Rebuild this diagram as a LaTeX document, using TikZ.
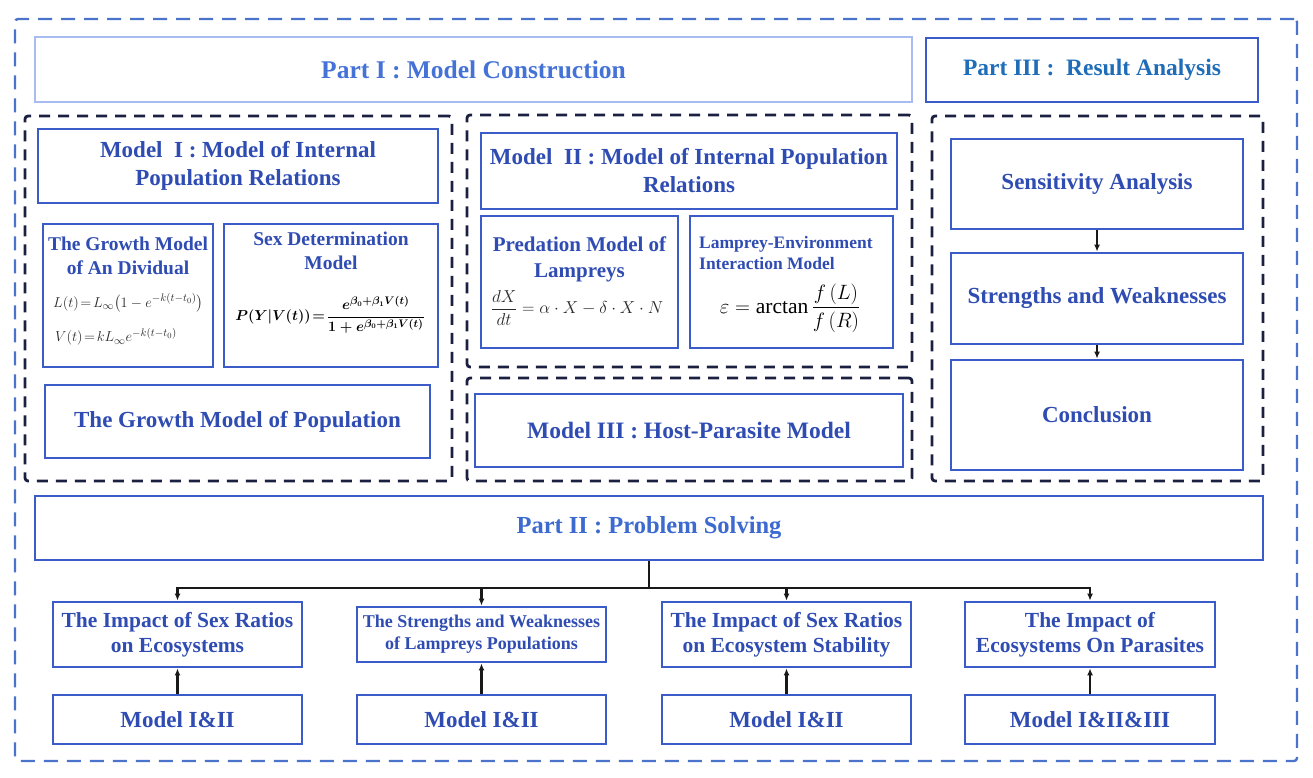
\documentclass[tikz,border=0pt]{standalone}
\usepackage{amsmath}
\usepackage{fontspec}
\setmainfont{Liberation Serif}
\usetikzlibrary{arrows.meta}
\newcommand{\fsz}[2]{\fontsize{#1pt}{#2pt}\selectfont}
\newcommand{\sexfml}{\ensuremath{P(Y\vert V(t))\!=\!\dfrac{e^{\beta_0+\beta_1V(t)}}{1+e^{\beta_0+\beta_1V(t)}}}}
\definecolor{bdr}{HTML}{3B5CC8}
\definecolor{ttl}{HTML}{2F4CB3}
\definecolor{pone}{HTML}{4472D6}
\definecolor{ptwo}{HTML}{3C6AD0}
\definecolor{pthree}{HTML}{1F6DB8}
\definecolor{lite}{HTML}{A8BCF2}
\definecolor{navy}{HTML}{1C2040}
\definecolor{outerc}{HTML}{4A74CC}
\definecolor{fmlc}{HTML}{2A2A2A}
\begin{document}
\begin{tikzpicture}[x=1pt,y=-1pt,
  box/.style={draw=bdr, line width=2.8pt, inner sep=0pt, text=ttl, align=center, font=\bfseries\fsz{23}{28}},
  grp/.style={draw=navy, dash pattern=on 11pt off 8pt, line width=2.8pt, rounded corners=3pt, inner sep=0pt},
  outerbox/.style={draw=outerc, dash pattern=on 14pt off 9pt, line width=2.4pt, rounded corners=3pt, inner sep=0pt},
  lbl/.style={inner sep=0pt, text=ttl, align=center},
  fml/.style={inner sep=0pt, text=fmlc},
  link/.style={draw=black!90, line width=2.4pt},
  arr/.style={draw=black!90, line width=2.4pt, -{Latex[length=7pt,width=6pt]}}
]
\useasboundingbox (0,0) rectangle (1313,778);
\fill[white] (0,0) rectangle (1313,778);

% outer frame
\node[outerbox, minimum width=1282pt, minimum height=742pt] (frame) at (656,390) {};

% part headers
\node[box, draw=lite, text=pone, font=\bfseries\fsz{25.5}{30}, minimum width=877pt, minimum height=65pt] (partI) at (473.5,69.5) {Part I : Model Construction};
\node[box, text=pthree, font=\bfseries\fsz{23.5}{28}, minimum width=332pt, minimum height=64pt] (partIII) at (1092,70) {Part III :\ \ Result Analysis};

% dashed groups
\node[grp, minimum width=427pt, minimum height=365pt] (g1) at (238.5,298.5) {};
\node[grp, minimum width=445pt, minimum height=252pt] (g2) at (689.5,241) {};
\node[grp, minimum width=445pt, minimum height=103pt] (g3) at (689.5,429.5) {};
\node[grp, minimum width=331pt, minimum height=365pt] (g4) at (1097.5,298.5) {};

% Model I
\node[box, minimum width=400pt, minimum height=74pt] (m1) at (238,166) {Model\ \ I : Model of Internal\\Population Relations};
\node[box, minimum width=170pt, minimum height=143pt] (gi) at (128,295.5) {};
\node[lbl, font=\bfseries\fsz{19.5}{24}] (giT) at (128,256) {The Growth Model\\of An Dividual};
\node[fml, anchor=west, font=\fsz{15.5}{18}] (giL) at (53,303) {$L(t)\!=\!L_\infty\bigl(1-e^{-k(t-t_0)}\bigr)$};
\node[fml, anchor=west, font=\fsz{15.5}{18}] (giV) at (55,337) {$V(t)\!=\!kL_\infty e^{-k(t-t_0)}$};
\node[box, minimum width=214pt, minimum height=143pt] (sd) at (331,295.5) {};
\node[lbl, font=\bfseries\fsz{19.5}{24}] (sdT) at (331,251) {Sex Determination\\Model};
\node[fml, text=black, font=\fsz{15}{18}\boldmath] (sdF) at (330,315) {\sexfml};
\node[box, minimum width=385pt, minimum height=73pt] (gp) at (237.5,421.5) {The Growth Model of Population};

% Model II
\node[box, minimum width=416pt, minimum height=76pt] (m2) at (689,171) {Model\ \ II : Model of Internal Population\\Relations};
\node[box, minimum width=197pt, minimum height=132pt] (pr) at (579.5,282) {};
\node[lbl, font=\bfseries\fsz{21}{26}] (prT) at (579.5,259) {Predation Model of\\Lampreys};
\node[fml, font=\fsz{17}{20}] (prF) at (577,308) {$\dfrac{dX}{dt}=\alpha\cdot X-\delta\cdot X\cdot N$};
\node[box, minimum width=203pt, minimum height=132pt] (le) at (791.5,282) {};
\node[lbl, anchor=west, align=left, font=\bfseries\fsz{17.5}{21}] (leT) at (699,253) {Lamprey-Environment\\Interaction Model};
\node[fml, text=black, font=\fsz{21.5}{24}] (leF) at (790,308) {$\varepsilon=\arctan\dfrac{f\,(L)}{f\,(R)}$};

% Model III
\node[box, font=\bfseries\fsz{23.5}{28}, minimum width=428pt, minimum height=73pt] (m3) at (689,430.5) {Model III : Host-Parasite Model};

% Part III chain
\node[box, minimum width=292pt, minimum height=90pt] (sens) at (1097,184) {Sensitivity Analysis};
\node[box, minimum width=292pt, minimum height=91pt] (stw) at (1097,298.5) {Strengths and Weaknesses};
\node[box, minimum width=292pt, minimum height=110pt] (conc) at (1097,415) {Conclusion};
\draw[arr] (sens.south) -- (stw.north);
\draw[arr] (stw.south) -- (conc.north);

% Part II
\node[box, text=ptwo, font=\bfseries\fsz{24.5}{29}, minimum width=1228pt, minimum height=64pt] (partII) at (649,528) {Part II : Problem Solving};
\node[box, font=\bfseries\fsz{21.5}{25}, minimum width=249pt, minimum height=65pt] (imp1) at (177.5,634.5) {The Impact of Sex Ratios\\on Ecosystems};
\node[box, font=\bfseries\fsz{18}{22}, minimum width=249pt, minimum height=55pt] (imp2) at (481.5,634.5) {The Strengths and Weaknesses\\of Lampreys Populations};
\node[box, font=\bfseries\fsz{21.5}{25}, minimum width=249pt, minimum height=65pt] (imp3) at (786.5,634.5) {The Impact of Sex Ratios\\on Ecosystem Stability};
\node[box, font=\bfseries\fsz{21.5}{25}, minimum width=250pt, minimum height=65pt] (imp4) at (1090,634.5) {The Impact of\\Ecosystems On Parasites};
\node[box, minimum width=249pt, minimum height=49pt] (mod1) at (177.5,719.5) {Model I\&II};
\node[box, minimum width=249pt, minimum height=49pt] (mod2) at (481.5,719.5) {Model I\&II};
\node[box, minimum width=249pt, minimum height=49pt] (mod3) at (786.5,719.5) {Model I\&II};
\node[box, minimum width=250pt, minimum height=49pt] (mod4) at (1090,719.5) {Model I\&II\&III};

\coordinate (hub) at (649,588);
\draw[link] (partII.south) -- (hub);
\draw[arr] (hub) -| (imp1.north);
\draw[arr] (hub) -| (imp2.north);
\draw[arr] (hub) -| (imp3.north);
\draw[arr] (hub) -| (imp4.north);
\draw[arr] (mod1.north) -- (imp1.south);
\draw[arr] (mod2.north) -- (imp2.south);
\draw[arr] (mod3.north) -- (imp3.south);
\draw[arr] (mod4.north) -- (imp4.south);
\end{tikzpicture}
\end{document}
